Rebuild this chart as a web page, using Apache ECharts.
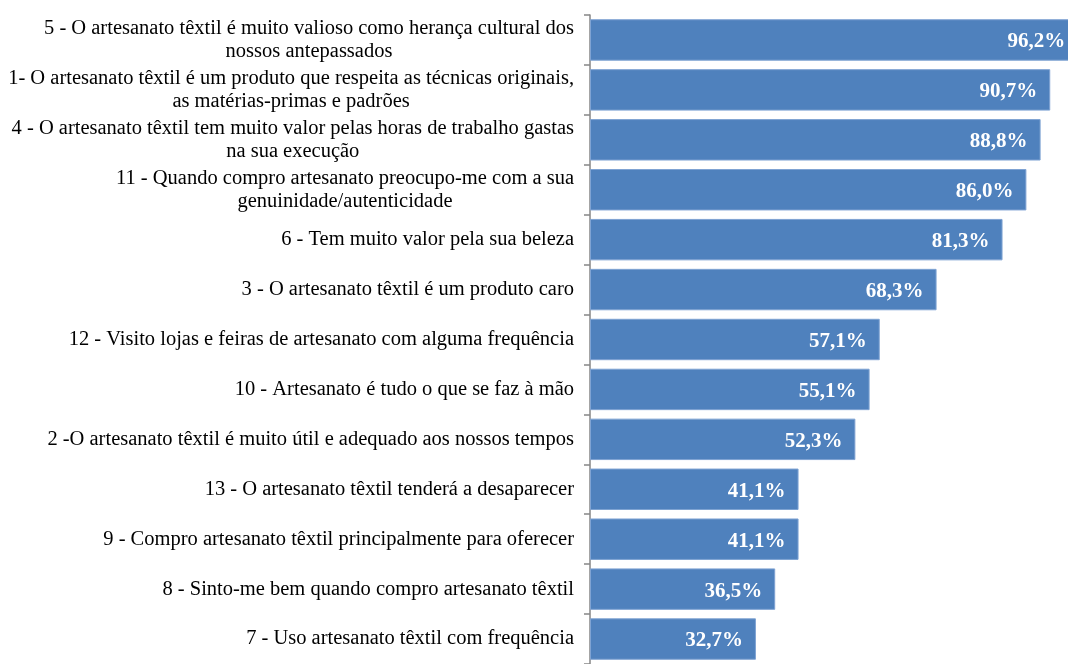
<!DOCTYPE html>
<html>
<head>
<meta charset="utf-8">
<script src="https://cdn.jsdelivr.net/npm/echarts@6/dist/echarts.min.js"></script>
<style>
  html, body { margin: 0; padding: 0; background: #fff; }
  #chart { width: 1068px; height: 664px; }
</style>
</head>
<body>
<div id="chart"></div>
<script>
// Statements, top to bottom as shown
const categories = [
  '5 - O artesanato têxtil é muito valioso como herança cultural dos\nnossos antepassados',
  '1- O artesanato têxtil é um produto que respeita as técnicas originais,\nas matérias-primas e padrões',
  '4 - O artesanato têxtil tem muito valor pelas horas de trabalho gastas\nna sua execução',
  '11 - Quando compro artesanato preocupo-me com a sua\ngenuinidade/autenticidade',
  '6 - Tem muito valor pela sua beleza',
  '3 - O artesanato têxtil é um produto caro',
  '12 - Visito lojas e feiras de artesanato com alguma frequência',
  '10 - Artesanato é tudo o que se faz à mão',
  '2 -O artesanato têxtil é muito útil e adequado aos nossos tempos',
  '13 - O artesanato têxtil tenderá a desaparecer',
  '9 - Compro artesanato têxtil principalmente para oferecer',
  '8 - Sinto-me bem quando compro artesanato têxtil',
  '7 - Uso artesanato têxtil com frequência'
];
// Percent agreeing
const values = [96.2, 90.7, 88.8, 86.0, 81.3, 68.3, 57.1, 55.1, 52.3, 41.1, 41.1, 36.5, 32.7];

const chart = echarts.init(document.getElementById('chart'));

const serif = '"Liberation Serif", "Times New Roman", serif';

const option = {
  animation: false,
  // the plot runs past the right edge of the picture, so the scale is cut at ~94%
  grid: { left: 590, top: 15, right: 0, height: 655, containLabel: false },
  xAxis: {
    type: 'value',
    min: 0,
    max: 94.2,
    show: false
  },
  yAxis: {
    type: 'category',
    inverse: true,
    data: categories,
    axisLine: { show: true, lineStyle: { color: '#868686', width: 1.5 } },
    axisTick: { show: true, length: 6, lineStyle: { color: '#868686', width: 1.5 } },
    axisLabel: {
      margin: 16,
      color: '#000',
      fontFamily: serif,
      fontSize: 20.5,
      formatter: (v) => v.split('\n').map(l => '{c|' + l + '}').join('\n'),
      rich: {
        c: {
          align: 'center',
          fontFamily: serif,
          fontSize: 20.5,
          lineHeight: 23,
          color: '#000'
        }
      }
    }
  },
  series: [
    {
      type: 'bar',
      data: values,
      clip: false,
      barCategoryGap: '17%',
      itemStyle: {
        color: '#4F81BD',
        borderColor: '#7FA3D3',
        borderWidth: 1
      },
      label: {
        show: true,
        position: 'insideRight',
        distance: 13,
        offset: [0, 2],
        color: '#fff',
        fontFamily: serif,
        fontWeight: 'bold',
        fontSize: 21,
        formatter: (p) => p.value.toFixed(1).replace('.', ',') + '%'
      }
    }
  ]
};

chart.setOption(option);

window.addEventListener('resize', () => chart.resize());
</script>
</body>
</html>
